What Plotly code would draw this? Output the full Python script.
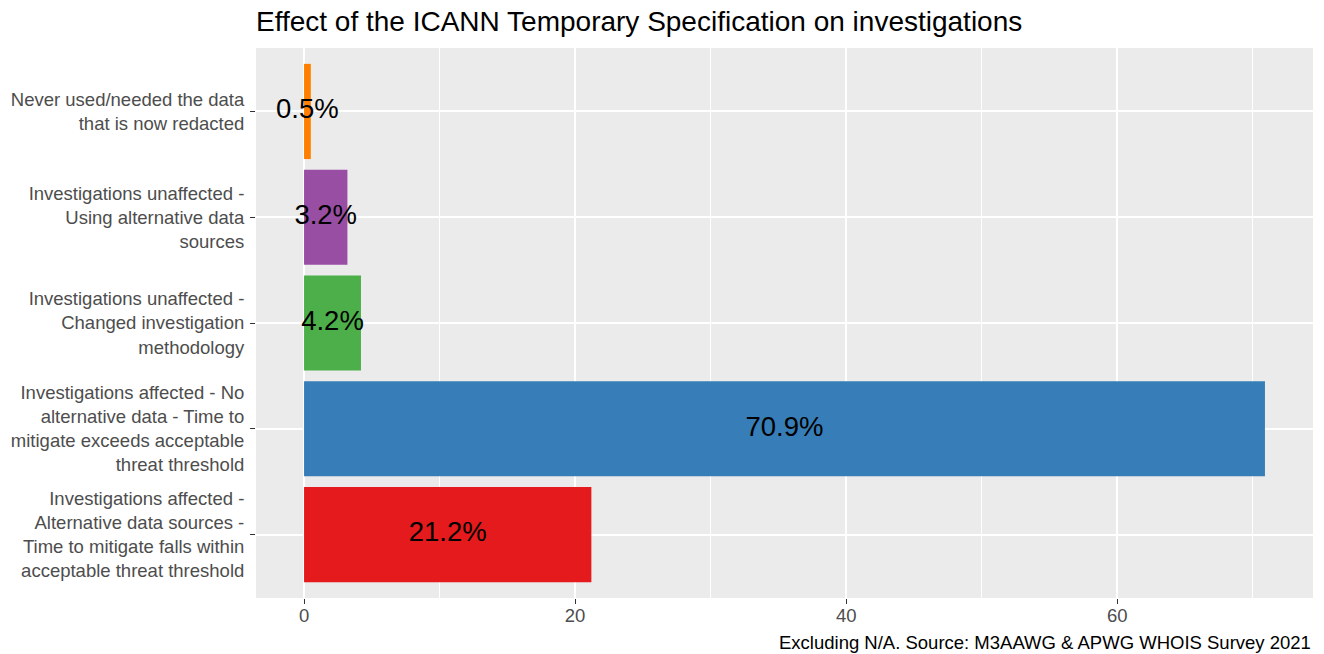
import plotly.graph_objects as go

categories = [
    "Investigations affected -<br>Alternative data sources -<br>Time to mitigate falls within<br>acceptable threat threshold",
    "Investigations affected - No<br>alternative data - Time to<br>mitigate exceeds acceptable<br>threat threshold",
    "Investigations unaffected -<br>Changed investigation<br>methodology",
    "Investigations unaffected -<br>Using alternative data<br>sources",
    "Never used/needed the data<br>that is now redacted",
]
values = [21.2, 70.9, 4.2, 3.2, 0.5]
colors = ["#E41A1C", "#377EB8", "#4DAF4A", "#984EA3", "#FF7F00"]
labels = [f"{v:.1f}%" for v in values]
x_ticks = [0, 20, 40, 60]

FONT = "Liberation Sans, Arial, Helvetica, sans-serif"

fig = go.Figure()
fig.add_trace(go.Bar(
    x=values, y=categories, orientation="h",
    marker=dict(color=colors, line=dict(width=0)),
    width=0.9, showlegend=False, hoverinfo="skip",
))
fig.add_trace(go.Scatter(
    x=[v / 2 for v in values], y=categories, mode="text",
    text=labels, textposition="middle center",
    textfont=dict(family=FONT, size=27.5, color="black"),
    showlegend=False, hoverinfo="skip",
))

lo = -0.05 * max(values)
hi = max(values) * 1.05

fig.update_layout(
    width=1324, height=654,
    paper_bgcolor="white", plot_bgcolor="#EBEBEB",
    margin=dict(l=256, r=11, t=48, b=56),
    font=dict(family=FONT),
    title=dict(
        text="Effect of the ICANN Temporary Specification on investigations",
        x=0, xref="paper", xanchor="left",
        y=1 - 21 / 654, yref="container", yanchor="middle",
        font=dict(family=FONT, size=28, color="black"),
    ),
    xaxis=dict(
        range=[lo, hi], tickvals=x_ticks, showgrid=True, automargin=False,
        gridcolor="white", gridwidth=1.5, zeroline=False,
        ticks="outside", ticklen=5, tickwidth=1.4, tickcolor="#333333",
        ticklabelstandoff=-4,
        tickfont=dict(family=FONT, size=18.5, color="#4D4D4D"),
        minor=dict(tickvals=[10, 30, 50, 70], showgrid=True,
                   gridcolor="white", gridwidth=0.7, ticks=""),
        showline=False,
    ),
    yaxis=dict(
        type="category", categoryorder="array", categoryarray=categories,
        range=[-0.6, 4.6], showgrid=True, gridcolor="white", gridwidth=1.5,
        automargin=False,
        zeroline=False, ticks="outside", ticklen=5, tickwidth=1.4,
        tickcolor="#333333", ticklabelstandoff=2,
        tickfont=dict(family=FONT, size=18.5, color="#4D4D4D"),
        showline=False,
    ),
    annotations=[dict(
        text="Excluding N/A. Source: M3AAWG & APWG WHOIS Survey 2021",
        xref="paper", yref="paper", x=1, y=-44 / 550,
        xanchor="right", yanchor="middle", showarrow=False,
        font=dict(family=FONT, size=18.5, color="black"),
    )],
)

fig.write_html(
    "out.html",
    config={"displayModeBar": False},
    post_script="document.body.style.margin='0';document.body.style.overflow='hidden';",
)
